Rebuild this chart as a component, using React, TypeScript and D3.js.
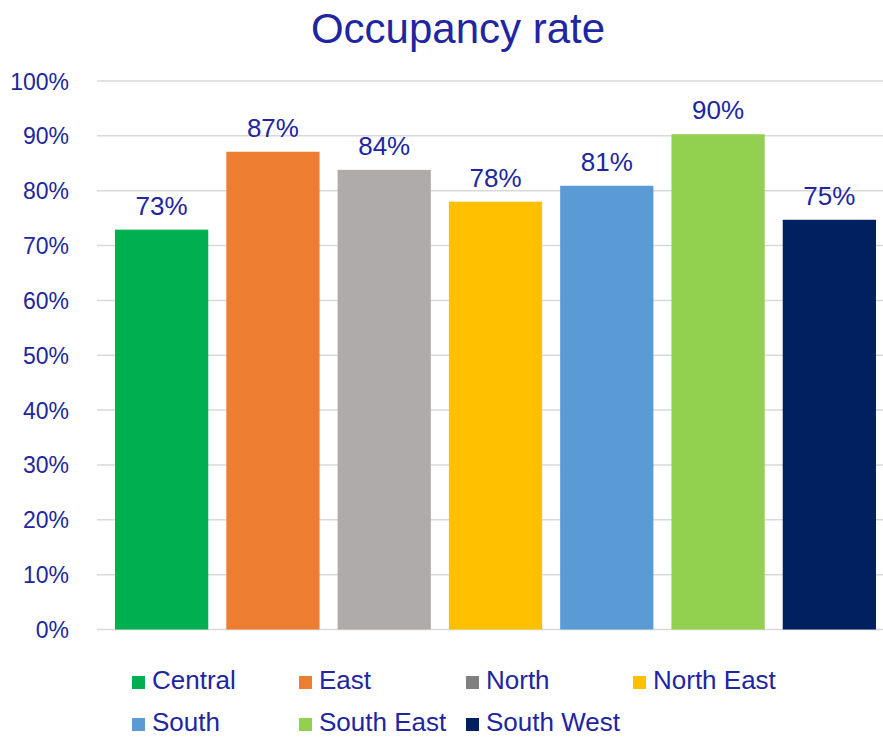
import React from "react";
import * as d3 from "d3";

const categories = ["Central", "East", "North", "North East", "South", "South East", "South West"];
const values = [0.729, 0.871, 0.838, 0.78, 0.809, 0.903, 0.747];
const barColors = ["#00B050", "#ED7D31", "#AFABAB", "#FFC000", "#5B9BD5", "#92D050", "#002060"];
const legendColors = ["#00B050", "#ED7D31", "#808080", "#FFC000", "#5B9BD5", "#92D050", "#002060"];
const yTicks = [0, 0.1, 0.2, 0.3, 0.4, 0.5, 0.6, 0.7, 0.8, 0.9, 1.0];

const App = () => {
    const width = 883;
    const height = 737;
    const textColor = "#2126A0";
    const font = "'Liberation Sans', Arial, sans-serif";

    const yScale = d3.scaleLinear().domain([0, 1]).range([629.5, 81]);
    const xScale = d3.scaleBand<string>()
        .domain(categories)
        .range([106, 885])
        .paddingInner(0.162)
        .paddingOuter(0.081);

    const pct = d3.format(".0%");

    // legend grid: 4 columns, 2 rows
    const legendX = (i: number) => 132 + (i % 4) * 167;
    const legendY = (i: number) => 689 + Math.floor(i / 4) * 42;

    return (
        <svg width={width} height={height} style={{ position: "absolute", left: 0, top: 0, background: "white" }}>
            {/* Title */}
            <text x={458} y={43} textAnchor="middle" fontFamily={font} fontSize={42} fill={textColor}>
                Occupancy rate
            </text>

            {/* Gridlines + y labels */}
            {yTicks.map((t) => (
                <g key={t}>
                    <line x1={97} x2={883} y1={yScale(t)} y2={yScale(t)} stroke="#D9D9D9" strokeWidth={1.5} />
                    <text x={69} y={yScale(t) + 8.5} textAnchor="end" fontFamily={font} fontSize={23} fill={textColor}>
                        {pct(t)}
                    </text>
                </g>
            ))}

            {/* Bars */}
            {categories.map((c, i) => (
                <g key={c}>
                    <rect
                        x={xScale(c)}
                        y={yScale(values[i])}
                        width={xScale.bandwidth()}
                        height={yScale(0) - yScale(values[i])}
                        fill={barColors[i]}
                    />
                    <text
                        x={(xScale(c) ?? 0) + xScale.bandwidth() / 2}
                        y={yScale(values[i]) - 15}
                        textAnchor="middle"
                        fontFamily={font}
                        fontSize={26}
                        fill={textColor}
                    >
                        {pct(values[i])}
                    </text>
                </g>
            ))}

            {/* Legend */}
            {categories.map((c, i) => (
                <g key={"lg" + c}>
                    <rect x={legendX(i)} y={legendY(i) - 13} width={13} height={13} fill={legendColors[i]} />
                    <text x={legendX(i) + 20} y={legendY(i)} fontFamily={font} fontSize={26} fill={textColor}>
                        {c}
                    </text>
                </g>
            ))}
        </svg>
    );
};

export default App;
